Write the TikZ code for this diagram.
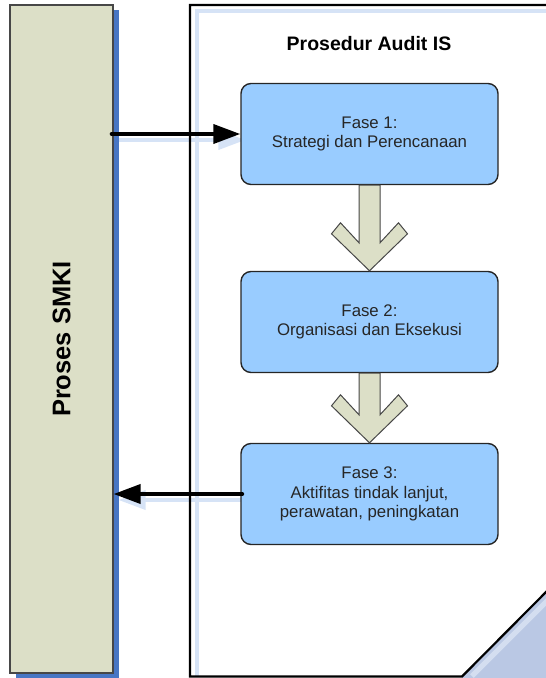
\documentclass[tikz,border=0pt]{standalone}
\usepackage{fontspec}
\setmainfont{Liberation Sans}
\usetikzlibrary{calc,arrows.meta,shadows}

\definecolor{sage}{RGB}{220,223,199}
\definecolor{phasefill}{RGB}{153,204,255}
\definecolor{shadowblue}{RGB}{72,118,196}
\definecolor{paleblue}{RGB}{214,227,246}
\definecolor{foldblue}{RGB}{186,200,228}
\definecolor{foldlight}{RGB}{212,222,240}
\definecolor{ink}{RGB}{38,38,38}

\pgfdeclarelayer{background}
\pgfsetlayers{background,main}

% broad hollow-headed arrow from the bottom of one phase box to the top of the next
\newcommand\chevronarrow[2]{%
  \draw[blockarrow] let \p1=(#1.south), \p2=(#2.north) in
    (\x1-10.5pt,\y1) -- (\x1-10.5pt,\y2+28pt) -- (\x1-29pt,\y2+48pt) -- (\x1-38pt,\y2+37pt)
    -- (\x1,\y2) -- (\x1+38pt,\y2+37pt) -- (\x1+29pt,\y2+48pt) -- (\x1+10.5pt,\y2+28pt)
    -- (\x1+10.5pt,\y1) -- cycle;}

\begin{document}
\begin{tikzpicture}[x=1pt,y=-1pt,
  phase/.style={draw=ink, line width=1.4pt, fill=phasefill, rounded corners=10pt,
    minimum width=257pt, minimum height=101pt, align=center, inner sep=0pt,
    font=\fontsize{16.8}{19.3}\selectfont, text=ink},
  blockarrow/.style={draw=ink!85, line width=1pt, fill=sage, line join=miter},
  flow/.style={line width=3.8pt, line cap=round, -{Triangle[length=27pt,width=19pt]}},
  flowshade/.style={flow, draw=paleblue, fill=paleblue,
    transform canvas={shift={(5pt,-6pt)}}}]

\useasboundingbox (0,0) rectangle (546,678);

% left process bar
\node[draw=ink!85, line width=1.2pt, fill=sage, minimum width=103pt, minimum height=668pt,
  inner sep=0pt,
  drop shadow={shadow xshift=6pt, shadow yshift=-5pt, fill=shadowblue, opacity=1}]
  (smki) at (61.5,339) {};
\node[rotate=90, font=\fontsize{25.5}{30}\selectfont\bfseries, text=black]
  (smkitext) at (smki.center) {Proses SMKI};

% document page with folded corner
\fill[foldblue] (462,676) -- (549,589) -- (549,679) -- (462,679) -- cycle;
\draw[foldlight, line width=5pt] (472,676) -- (549,599);
\draw[paleblue, line width=4pt] (196.5,676) -- (196.5,11) -- (549,11);
\draw[black, line width=2.2pt, line join=miter]
  (549,5) -- (190,5) -- (190,676.5) -- (462,676.5) -- (549,589);

\node[font=\fontsize{19.5}{23}\selectfont\bfseries, text=black]
  (title) at (369,44) {Prosedur Audit IS};

% phases
\node[phase] (b1) at (369.5,134) {Fase 1:\\Strategi dan Perencanaan};
\node[phase] (b2) at (369.5,322) {Fase 2:\\Organisasi dan Eksekusi};
\node[phase] (b3) at (369.5,494) {Fase 3:\\Aktifitas tindak lanjut,\\perawatan, peningkatan};

\chevronarrow{b1}{b2}
\chevronarrow{b2}{b3}

% connections between the process bar and the phases
\begin{pgfonlayer}{background}
  \draw[flowshade] (smki.east |- b1.west) -- (b1.west);
  \draw[flowshade] (b3.west) -- (smki.east |- b3.west);
\end{pgfonlayer}
\draw[flow] ([xshift=-2pt]smki.east |- b1.west) -- (b1.west);
\draw[flow] ([xshift=2pt]b3.west) -- (smki.east |- b3.west);
\end{tikzpicture}
\end{document}
